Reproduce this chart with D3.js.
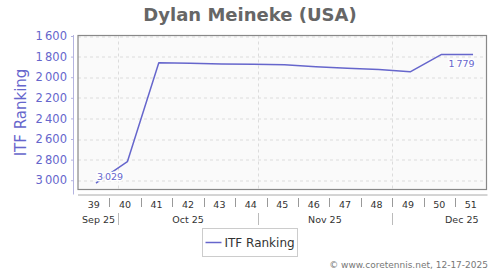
<!DOCTYPE html>
<html>
<head>
<meta charset="utf-8">
<script src="https://cdn.jsdelivr.net/npm/d3@7"></script>
<style>
  body { margin: 0; background: #fff; }
  svg { font-family: "DejaVu Sans", Verdana, sans-serif; }
</style>
</head>
<body>
<div id="chart"></div>
<script>
// weekly ITF ranking, ISO weeks of 2025
var weeks = [39, 40, 41, 42, 43, 44, 45, 46, 47, 48, 49, 50, 51];
var ranking = [3029, 2820, 1860, 1865, 1872, 1875, 1880, 1898, 1912, 1925, 1948, 1779, 1779];
var yTicks = [1600, 1800, 2000, 2200, 2400, 2600, 2800, 3000];
var monthNames = ["Sep 25", "Oct 25", "Nov 25", "Dec 25"];
var monthStarts = ["2025-09-01", "2025-10-01", "2025-11-01", "2025-12-01"];
var labelled = [39, 51];   // weeks carrying a value label (worst / best)

var W = 500, H = 270;
var margin = {top: 35.5, right: 13.5, bottom: 80.5, left: 78},
    width = W - margin.left - margin.right,
    height = H - margin.top - margin.bottom;

var blue = "#6666cc";
var parse = d3.utcParse("%Y-%m-%d");
var week39 = parse("2025-09-22");
function weekStart(w) { return d3.utcDay.offset(week39, (w - 39) * 7); }

var data = weeks.map(function(w, i) {
  return {week: w, rank: ranking[i], date: d3.utcHour.offset(weekStart(w), 96)};
});

var svg = d3.select("#chart").append("svg")
    .attr("width", W).attr("height", H);

svg.append("text")
    .attr("x", W / 2).attr("y", 21)
    .attr("text-anchor", "middle")
    .attr("font-size", "18px").attr("font-weight", "bold")
    .attr("fill", "#666")
    .text("Dylan Meineke (USA)");

var g = svg.append("g")
    .attr("transform", "translate(" + margin.left + "," + margin.top + ")");

var x = d3.scaleUtc()
    .domain([week39, weekStart(52)])
    .range([0, width]);

var y = d3.scaleLinear()
    .domain([1600, 3090])
    .range([0.5, height]);

// plot background
g.append("rect")
    .attr("width", width).attr("height", height)
    .attr("fill", "#fafafa");

// horizontal grid
g.selectAll(".hgrid").data(yTicks).enter().append("line")
    .attr("x1", 0).attr("x2", width)
    .attr("y1", function(d) { return Math.round(y(d)) + 0.5; })
    .attr("y2", function(d) { return Math.round(y(d)) + 0.5; })
    .attr("stroke", "#dcdcdc").attr("stroke-dasharray", "3,3");

// month boundaries (grid + separators)
var monthDates = monthStarts.map(parse);
var inside = monthDates.filter(function(d) { return d > week39; });
g.selectAll(".vgrid").data(inside).enter().append("line")
    .attr("x1", function(d) { return Math.round(x(d)) + 0.5; })
    .attr("x2", function(d) { return Math.round(x(d)) + 0.5; })
    .attr("y1", 0).attr("y2", height)
    .attr("stroke", "#dcdcdc").attr("stroke-dasharray", "3,3");

// frame
g.append("rect")
    .attr("width", width).attr("height", height)
    .attr("fill", "none").attr("stroke", "#888").attr("stroke-width", 1.2);

// y axis, a little to the left of the frame
var yAxis = d3.axisLeft(y).tickValues(yTicks).tickSize(2).tickPadding(4)
    .tickFormat(function(d) { return d3.format(",")(d).replace(",", "\u2009"); });
var ya = g.append("g")
    .attr("transform", "translate(-5,0)")
    .call(yAxis);
ya.select(".domain").attr("stroke", "#b4b4e0").attr("d", "M0.5,-0.5V" + (height + 5));
ya.selectAll(".tick line").attr("stroke", "#b4b4e0");
ya.selectAll("text")
    .attr("fill", blue).attr("font-size", "11.5px")
    .attr("font-family", "DejaVu Sans, sans-serif");

svg.append("text")
    .attr("transform", "translate(26," + (margin.top + 77) + ") rotate(-90)")
    .attr("text-anchor", "middle")
    .attr("font-size", "15px").attr("fill", blue)
    .text("ITF Ranking");

// x axis: weeks on top row, months below
var xa = g.append("g").attr("transform", "translate(0," + (height + 5.5) + ")");
xa.append("line")
    .attr("x1", 0).attr("x2", width + 1)
    .attr("stroke", "#aaa");

xa.selectAll(".wsep").data(weeks.slice(1)).enter().append("line")
    .attr("x1", function(w) { return Math.round(x(weekStart(w))) + 0.5; })
    .attr("x2", function(w) { return Math.round(x(weekStart(w))) + 0.5; })
    .attr("y1", 3).attr("y2", 12)
    .attr("stroke", "#999");

xa.selectAll(".wlab").data(weeks).enter().append("text")
    .attr("x", function(w) { return x(d3.utcHour.offset(weekStart(w), 84)); })
    .attr("y", 13)
    .attr("text-anchor", "middle")
    .attr("font-size", "9.5px").attr("fill", "#333")
    .text(function(w) { return w; });

xa.selectAll(".msep").data(inside).enter().append("line")
    .attr("x1", function(d) { return Math.round(x(d)) + 0.5; })
    .attr("x2", function(d) { return Math.round(x(d)) + 0.5; })
    .attr("y1", 18).attr("y2", 30)
    .attr("stroke", "#bbb");

xa.selectAll(".mlab").data(monthDates).enter().append("text")
    .attr("y", 28)
    .attr("text-anchor", "middle")
    .attr("font-size", "9.5px").attr("fill", "#333")
    .text(function(d, i) { return monthNames[i]; })
    .attr("x", function(d) {
      var mid = x(new Date((+d + +d3.utcMonth.offset(d, 1)) / 2));
      var hw = this.getComputedTextLength() / 2;
      return Math.max(4 + hw, Math.min(width - 8 - hw, mid));
    });

// series
var clip = g.append("clipPath").attr("id", "plotclip")
    .append("rect").attr("width", width).attr("height", height);

g.append("path")
    .datum(data)
    .attr("clip-path", "url(#plotclip)")
    .attr("fill", "none")
    .attr("stroke", blue)
    .attr("stroke-width", 1.5)
    .attr("stroke-linejoin", "round")
    .attr("d", d3.line()
      .x(function(d) { return x(d.date); })
      .y(function(d) { return y(d.rank); }));

var fmt = function(v) { return d3.format(",")(v).replace(",", "\u2009"); };
g.selectAll(".vlab")
    .data(data.filter(function(d) { return labelled.indexOf(d.week) >= 0; }))
  .enter().append("text")
    .attr("x", function(d, i) { return x(d.date) + (i === 0 ? 1 : 1.5); })
    .attr("y", function(d, i) { return y(d.rank) + (i === 0 ? -3.5 : 12.5); })
    .attr("text-anchor", function(d, i) { return i === 0 ? "start" : "end"; })
    .attr("font-size", "9.5px")
    .attr("fill", blue)
    .attr("stroke", "#fff").attr("stroke-width", 3)
    .attr("stroke-linejoin", "round")
    .attr("paint-order", "stroke")
    .text(function(d) { return fmt(d.rank); });

// legend
var lg = svg.append("g").attr("transform", "translate(202.5,228.5)");
lg.append("rect")
    .attr("width", 95).attr("height", 28)
    .attr("fill", "#fff").attr("stroke", "#ccc");
lg.append("line")
    .attr("x1", 3).attr("x2", 19).attr("y1", 14).attr("y2", 14)
    .attr("stroke", blue).attr("stroke-width", 1.5);
lg.append("text")
    .attr("x", 22).attr("y", 18.5)
    .attr("font-size", "12px").attr("fill", "#333")
    .text("ITF Ranking");

svg.append("text")
    .attr("x", 488).attr("y", 268)
    .attr("text-anchor", "end")
    .attr("font-size", "9px").attr("fill", "#777")
    .text("\u00a9 www.coretennis.net, 12-17-2025");
</script>
</body>
</html>
